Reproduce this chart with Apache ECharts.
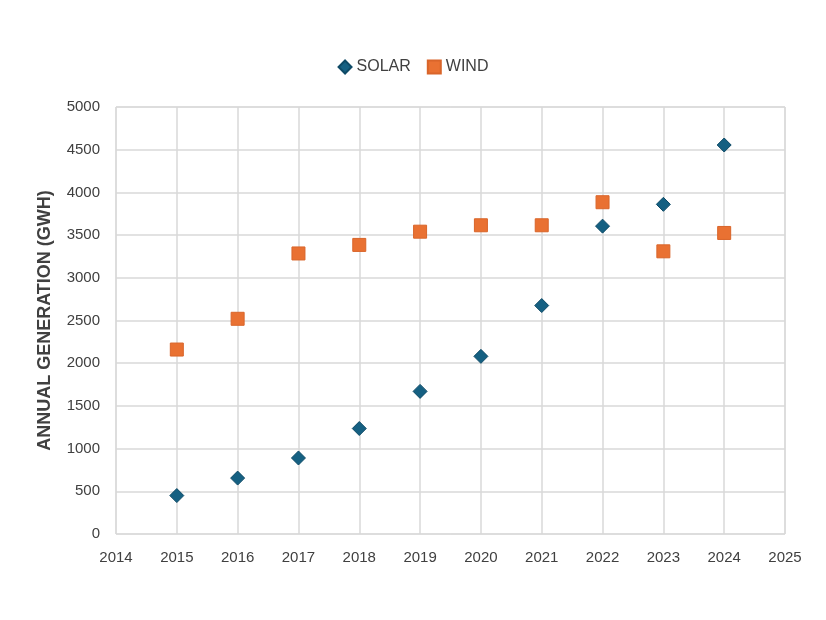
<!DOCTYPE html>
<html><head><meta charset="utf-8">
<script src="https://cdn.jsdelivr.net/npm/echarts@6/dist/echarts.min.js"></script>
<style>html,body{margin:0;padding:0;background:#fff}#c{width:826px;height:620px}</style>
</head><body><div id="c"></div>
<script>
const years = [2015, 2016, 2017, 2018, 2019, 2020, 2021, 2022, 2023, 2024];
const solar = [450, 655, 890, 1235, 1670, 2080, 2675, 3605, 3860, 4555];
const wind = [2160, 2520, 3285, 3385, 3540, 3615, 3615, 3885, 3310, 3525];
const yTicks = [0, 500, 1000, 1500, 2000, 2500, 3000, 3500, 4000, 4500, 5000];

const chart = echarts.init(document.getElementById('c'));
chart.setOption({
  animation: false,
  legend: {
    top: 54, left: 'center', itemGap: 16, itemWidth: 13, itemHeight: 13,
    textStyle: {fontFamily: 'Liberation Sans', fontSize: 16, color: '#404040'},
    data: [{name: 'SOLAR', icon: 'diamond'}, {name: 'WIND', icon: 'rect'}]
  },
  grid: {left: 116, right: 41, top: 107, bottom: 86, show: true, borderColor: '#d9d9d9', borderWidth: 1},
  xAxis: {
    type: 'value', min: 2014, max: 2025, interval: 1,
    axisLine: {show: false}, axisTick: {show: false},
    splitLine: {show: true, lineStyle: {color: '#d9d9d9', width: 1.5}},
    axisLabel: {margin: 16, fontFamily: 'Liberation Sans', fontSize: 15, color: '#404040', formatter: v => String(v)}
  },
  yAxis: {
    type: 'value', min: yTicks[0], max: yTicks[yTicks.length - 1], interval: 500,
    axisLine: {show: false}, axisTick: {show: false},
    splitLine: {show: true, lineStyle: {color: '#d9d9d9', width: 1.5}},
    axisLabel: {margin: 16, fontFamily: 'Liberation Sans', fontSize: 15, color: '#404040', formatter: v => String(v)},
    name: 'ANNUAL GENERATION (GWH)', nameLocation: 'middle', nameGap: 62, nameRotate: 90,
    nameTextStyle: {fontFamily: 'Liberation Sans', fontSize: 18, fontWeight: 'bold', color: '#404040'}
  },
  series: [
    {name: 'SOLAR', type: 'scatter', symbol: 'diamond', symbolSize: 14,
     itemStyle: {color: '#156082', borderColor: '#0e4a66', borderWidth: 1, opacity: 1},
     data: years.map((y, i) => [y, solar[i]])},
    {name: 'WIND', type: 'scatter', symbol: 'rect', symbolSize: 13,
     itemStyle: {color: '#E97132', borderColor: '#d9652a', borderWidth: 1, opacity: 1},
     data: years.map((y, i) => [y, wind[i]])}
  ]
});
</script></body></html>
